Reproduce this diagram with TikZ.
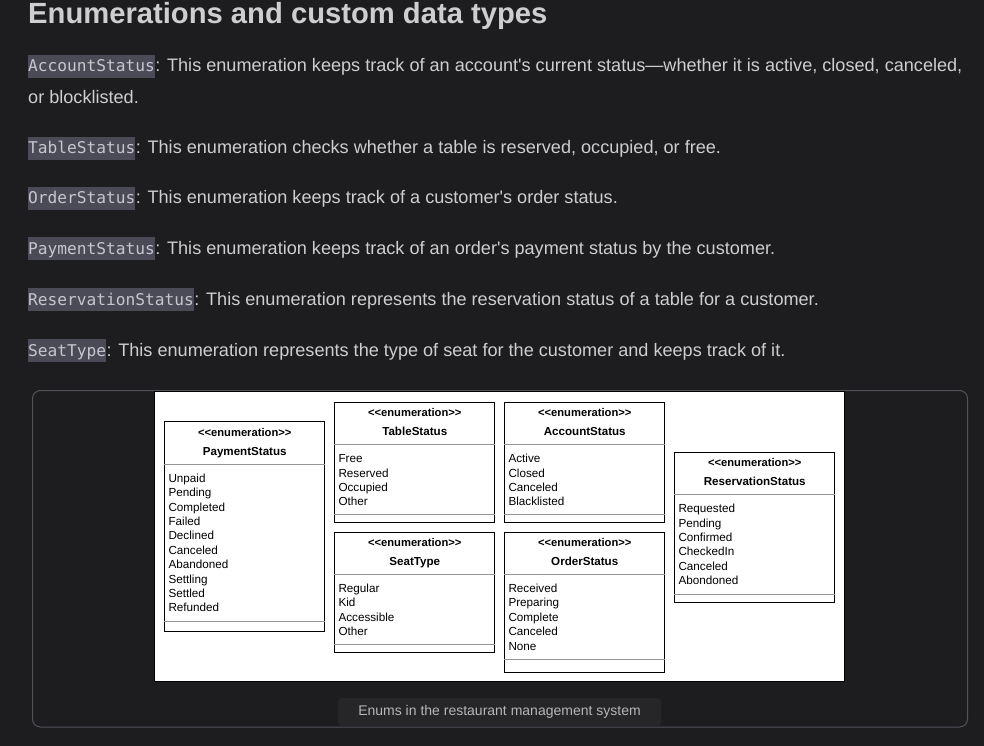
\documentclass[tikz,border=0pt]{standalone}
\usepackage{fontspec}
\setmainfont{Liberation Sans}
\setmonofont{DejaVu Sans Mono}
\usetikzlibrary{calc,positioning}

\definecolor{pagebg}{RGB}{29,29,31}
\definecolor{txtlight}{RGB}{206,206,209}
\definecolor{codebg}{RGB}{74,75,87}
\definecolor{codetxt}{RGB}{198,199,204}
\definecolor{framegray}{RGB}{82,82,90}
\definecolor{capbg}{RGB}{38,38,41}
\definecolor{captxt}{RGB}{182,182,186}
\definecolor{divgray}{RGB}{150,150,150}

% one enumeration box: name, left x, top y, height, second divider, title, values
\newcommand{\umlenum}[7]{
  \node[enumframe, minimum height=#4pt, anchor=north west] (#1) at (#2,#3) {};
  \node[stereo] (#1-st) at ($(#1.north)+(0,15)$) {{<}{<}enumeration{>}{>}};
  \node[enumtitle] (#1-tl) at ($(#1.north)+(0,34)$) {#6};
  \draw[divider] ($(#1.north west)+(0,43)$) -- ($(#1.north east)+(0,43)$);
  \draw[divider] ($(#1.north west)+(0,#5)$) -- ($(#1.north east)+(0,#5)$);
  \foreach \v [count=\i from 0] in {#7}
    \node[enumval] at ($(#1.north west)+(4,{61+14.4*\i})$) {\v};
}

\begin{document}
\begin{tikzpicture}[x=1pt, y=-1pt,
    heading/.style={font=\bfseries\fontsize{29.2}{34}\selectfont, text=txtlight, inner sep=0, anchor=base west},
    body/.style={font=\fontsize{18.1}{21}\selectfont, text=txtlight, inner sep=0, anchor=base west},
    code/.style={font=\ttfamily\fontsize{16.2}{19}\selectfont, fill=codebg, text=codetxt, inner sep=0, text height=17pt, text depth=6pt, anchor=base west},
    enumframe/.style={draw=black, line width=0.9pt, fill=white, minimum width=160pt, inner sep=0},
    stereo/.style={font=\bfseries\fontsize{11.2}{13}\selectfont, inner sep=0, anchor=base},
    enumtitle/.style={font=\bfseries\fontsize{11.6}{13}\selectfont, inner sep=0, anchor=base},
    enumval/.style={font=\fontsize{11.7}{13}\selectfont, inner sep=0, anchor=base west},
    divider/.style={draw=divgray, line width=0.8pt},
    capbox/.style={fill=capbg, rounded corners=4pt, minimum width=323pt, minimum height=28pt, text=captxt, font=\fontsize{14}{16}\selectfont}]
  \fill[pagebg] (0,0) rectangle (984,746);

  % text above the picture
  \node[heading] (head) at (28,24) {Enumerations and custom data types};
  \node[code] (acc) at (28,72) {AccountStatus};
  \node[body] (accd) at (acc.base east) {: This enumeration keeps track of an account\textquotesingle s current status\textemdash whether it is active, closed, canceled,};
  \node[body] (accd2) at (28,104) {or blocklisted.};
  \node[code] (tab) at (28,154) {TableStatus};
  \node[body] (tabd) at (tab.base east) {: This enumeration checks whether a table is reserved, occupied, or free.};
  \node[code] (ord) at (28,204) {OrderStatus};
  \node[body] (ordd) at (ord.base east) {: This enumeration keeps track of a customer\textquotesingle s order status.};
  \node[code] (pay) at (28,254) {PaymentStatus};
  \node[body] (payd) at (pay.base east) {: This enumeration keeps track of an order\textquotesingle s payment status by the customer.};
  \node[code] (res) at (28,305) {ReservationStatus};
  \node[body] (resd) at (res.base east) {: This enumeration represents the reservation status of a table for a customer.};
  \node[code] (seat) at (28,356) {SeatType};
  \node[body] (seatd) at (seat.base east) {: This enumeration represents the type of seat for the customer and keeps track of it.};

  % frame and white canvas
  \draw[framegray, line width=1pt, rounded corners=8pt] (32.5,390.5) rectangle (967.5,727);
  \draw[fill=white, draw=black, line width=0.8pt] (154.5,391) rectangle (844,681);

  % the enumerations
  \umlenum{paystat}{164.3}{421.3}{210}{200.5}{PaymentStatus}{Unpaid,Pending,Completed,Failed,Declined,Canceled,Abandoned,Settling,Settled,Refunded}
  \umlenum{tabstat}{334.3}{401.7}{120}{113}{TableStatus}{Free,Reserved,Occupied,Other}
  \umlenum{accstat}{504.3}{401.7}{120}{113}{AccountStatus}{Active,Closed,Canceled,Blacklisted}
  \umlenum{resstat}{674.3}{451.7}{150}{142.5}{ReservationStatus}{Requested,Pending,Confirmed,CheckedIn,Canceled,Abondoned}
  \umlenum{seattype}{334.3}{531.5}{120}{113}{SeatType}{Regular,Kid,Accessible,Other}
  \umlenum{ordstat}{504.3}{531.5}{140}{127.5}{OrderStatus}{Received,Preparing,Complete,Canceled,None}

  \node[capbox] (cap) at (499.5,712) {Enums in the restaurant management system};
\end{tikzpicture}
\end{document}
